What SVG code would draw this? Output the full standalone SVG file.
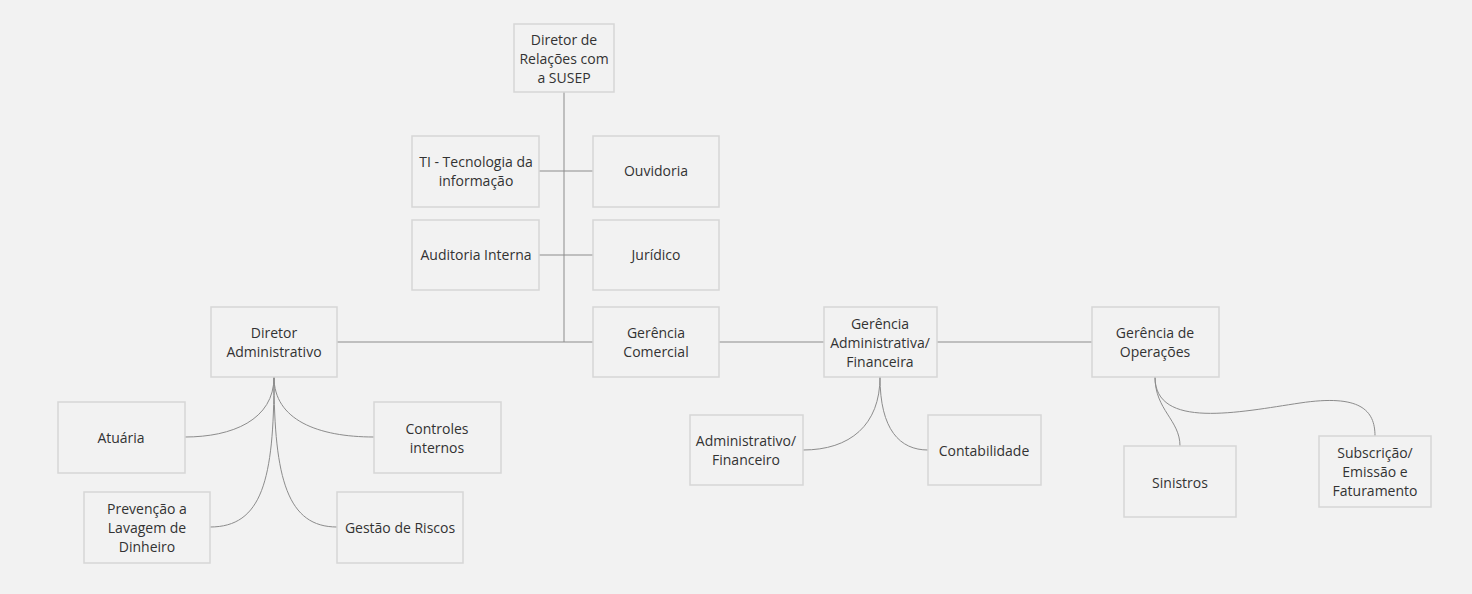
<svg xmlns="http://www.w3.org/2000/svg" width="1472" height="594" viewBox="0 0 1472 594">
<style>
.n rect{fill:#f2f2f2;stroke:#d6d6d6;stroke-width:1.5}
.n text{font-family:"Open Sans","Liberation Sans",sans-serif;font-size:14px;fill:#333;text-anchor:middle}
.c path{fill:none;stroke:#8c8c8c;stroke-width:1}
</style>
<rect width="1472" height="594" fill="#f2f2f2"/>
<g class="c" id="connectors">
<path d="M564,92 V342"/>
<path d="M337,342 H593"/>
<path d="M719,342 H824"/>
<path d="M937,342 H1092"/>
<path d="M539,171 H593"/>
<path d="M539,255 H593"/>
<path d="M274,377 C274,420 232,437 185,437"/>
<path d="M274,377 C274,420 318,437 374,437"/>
<path d="M274,377 C274,480 262,527 210,527"/>
<path d="M274,377 C274,480 288,527 337,527"/>
<path d="M880,377 C880,425 850,450 803,450"/>
<path d="M880,377 C880,430 900,450 928,450"/>
<path d="M1155,377 C1155,410 1180,420 1180,446"/>
<path d="M1155,377 C1155,430 1240,412 1300,403 C1360,394 1375,410 1375,436"/>
</g>
<g class="n" id="diretor-susep"><rect x="514" y="24" width="100" height="68"/><text x="564" y="45">Diretor de</text><text x="564" y="64">Relações com</text><text x="564" y="83">a SUSEP</text></g>
<g class="n" id="ti"><rect x="412" y="136" width="127" height="71"/><text x="476" y="167">TI - Tecnologia da</text><text x="476" y="186">informação</text></g>
<g class="n" id="ouvidoria"><rect x="593" y="136" width="126" height="71"/><text x="656" y="176">Ouvidoria</text></g>
<g class="n" id="auditoria"><rect x="412" y="220" width="127" height="70"/><text x="476" y="260">Auditoria Interna</text></g>
<g class="n" id="juridico"><rect x="593" y="220" width="126" height="70"/><text x="656" y="260">Jurídico</text></g>
<g class="n" id="gerencia-comercial"><rect x="593" y="307" width="126" height="70"/><text x="656" y="338">Gerência</text><text x="656" y="357">Comercial</text></g>
<g class="n" id="diretor-adm"><rect x="211" y="307" width="126" height="70"/><text x="274" y="338">Diretor</text><text x="274" y="357">Administrativo</text></g>
<g class="n" id="gerencia-adm-fin"><rect x="824" y="307" width="113" height="70"/><text x="880" y="329">Gerência</text><text x="880" y="348">Administrativa/</text><text x="880" y="367">Financeira</text></g>
<g class="n" id="gerencia-operacoes"><rect x="1092" y="307" width="127" height="70"/><text x="1155" y="338">Gerência de</text><text x="1155" y="357">Operações</text></g>
<g class="n" id="atuaria"><rect x="58" y="402" width="127" height="71"/><text x="121" y="443">Atuária</text></g>
<g class="n" id="controles"><rect x="374" y="402" width="127" height="71"/><text x="437" y="434">Controles</text><text x="437" y="453">internos</text></g>
<g class="n" id="prevencao"><rect x="84" y="492" width="126" height="71"/><text x="147" y="514">Prevenção a</text><text x="147" y="533">Lavagem de</text><text x="147" y="552">Dinheiro</text></g>
<g class="n" id="gestao-riscos"><rect x="337" y="492" width="126" height="71"/><text x="400" y="533">Gestão de Riscos</text></g>
<g class="n" id="adm-fin"><rect x="690" y="415" width="113" height="70"/><text x="746" y="446">Administrativo/</text><text x="746" y="465">Financeiro</text></g>
<g class="n" id="contabilidade"><rect x="928" y="415" width="113" height="70"/><text x="984" y="456">Contabilidade</text></g>
<g class="n" id="sinistros"><rect x="1124" y="446" width="112" height="71"/><text x="1180" y="488">Sinistros</text></g>
<g class="n" id="subscricao"><rect x="1319" y="436" width="112" height="71"/><text x="1375" y="458">Subscrição/</text><text x="1375" y="477">Emissão e</text><text x="1375" y="496">Faturamento</text></g>
</svg>
